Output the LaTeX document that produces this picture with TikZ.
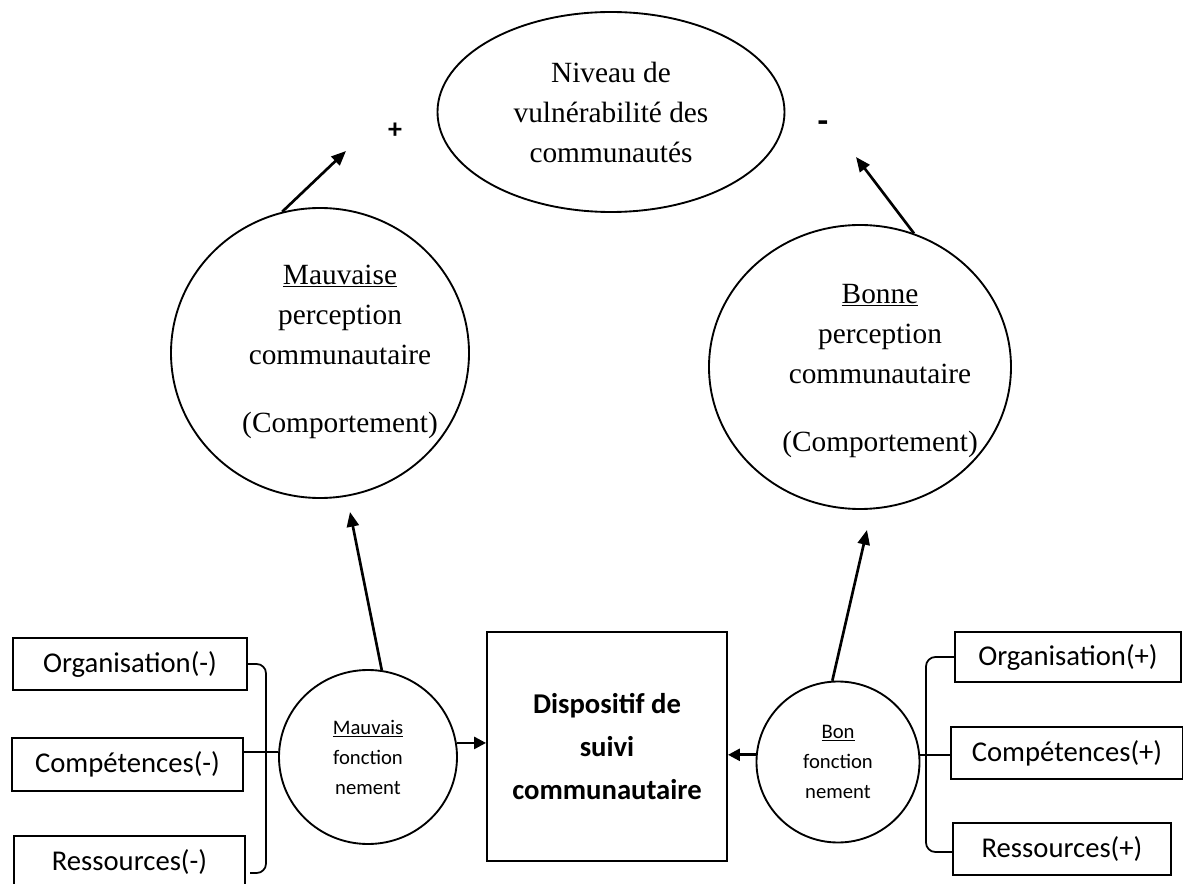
\documentclass[tikz,border=0pt]{standalone}
\usepackage{fontspec}
\setmainfont{Liberation Serif}
\newfontfamily\calfont{Carlito}
\usetikzlibrary{arrows.meta,shapes.geometric}
\begin{document}
\begin{tikzpicture}[x=0.75pt,y=-0.75pt,
  shp/.style={draw,line width=1.4pt,inner sep=0pt},
  ell/.style={shp,ellipse},
  serif/.style={font=\fontsize{22}{30}\selectfont,align=center},
  lbox/.style={shp,rectangle,font=\calfont\fontsize{21.5}{26}\selectfont},
  circtext/.style={font=\calfont\fontsize{15.5}{22.5}\selectfont,align=center},
  arr/.style={line width=2pt,-{Triangle[length=11pt,width=9pt]}},
  harr/.style={line width=2pt,-{Triangle[length=9pt,width=9pt]}},
  lnk/.style={line width=1.6pt},
  brk/.style={line width=1.3pt,rounded corners=7pt}]
\useasboundingbox (0,0) rectangle (1183,884);

% top ellipse
\node[ell,serif,minimum width=347*0.75pt,minimum height=200*0.75pt] (niv) at (611,112) {Niveau de\\vuln\'erabilit\'e des\\communaut\'es};

% perception ellipses
\node[ell,minimum width=298*0.75pt,minimum height=290*0.75pt] (mperc) at (320,353) {};
\node[serif] (mpt) at (340,352) {\underline{Mauvaise}\\perception\\communautaire\\[21pt](Comportement)};
\node[ell,minimum width=302*0.75pt,minimum height=284*0.75pt] (bperc) at (860,367) {};
\node[serif] (bpt) at (880,371) {\underline{Bonne}\\perception\\communautaire\\[21pt](Comportement)};

% functioning circles
\node[ell,circtext,minimum width=178*0.75pt,minimum height=174*0.75pt] (mfunc) at (368,757) {\underline{Mauvais}\\fonction\\nement};
\node[ell,circtext,minimum width=163*0.75pt,minimum height=161*0.75pt] (bfunc) at (838,762) {\underline{Bon}\\fonction\\nement};

% central box
\node[shp,rectangle,minimum width=240*0.75pt,minimum height=229*0.75pt,font=\calfont\bfseries\fontsize{21.5}{32}\selectfont,align=center] (disp) at (607,746.5) {Dispositif de\\suivi\\communautaire};

% left boxes
\node[lbox,minimum width=234*0.75pt,minimum height=52*0.75pt] (orgm) at (130,664) {Organisation(-)};
\node[lbox,minimum width=231*0.75pt,minimum height=53*0.75pt] (compm) at (127.5,764.5) {Comp\'etences(-)};
\node[lbox,minimum width=231*0.75pt,minimum height=52*0.75pt] (resm) at (129.5,862) {Ressources(-)};

% right boxes
\node[lbox,minimum width=226*0.75pt,minimum height=50*0.75pt] (orgp) at (1068,657) {Organisation(+)};
\node[lbox,minimum width=232*0.75pt,minimum height=52*0.75pt] (compp) at (1067,753) {Comp\'etences(+)};
\node[lbox,minimum width=218*0.75pt,minimum height=52*0.75pt] (resp) at (1062,849) {Ressources(+)};

% signs
\node[font=\calfont\bfseries\fontsize{21}{21}\selectfont] (plus) at (395,131) {+};
\node[font=\calfont\bfseries\fontsize{26}{26}\selectfont] (minus) at (823,127) {-};

% arrows
\coordinate (mtip) at (346,151);
\coordinate (btip) at (856,157);
\coordinate (mptip) at (350,512);
\coordinate (bptip) at (867,530);
\draw[arr] (mperc.105) -- (mtip);
\draw[arr] (bperc.68) -- (btip);
\draw[arr] (mfunc.81) -- (mptip);
\draw[arr] (bfunc.94) -- (bptip);
\draw[harr] (mfunc.9) -- (mfunc.9 -| disp.west);
\draw[harr] (bfunc.175) -- (bfunc.175 -| disp.east);
\draw[lnk] (mfunc.177) -- (mfunc.177 -| compm.east);
\draw[lnk] (bfunc.5) -- (bfunc.5 -| compp.west);

% brackets
\draw[brk] (orgm.east) -| (266,873) -- (250,873);
\draw[brk] (orgp.west) -| (926,852) -- (952,852);
\end{tikzpicture}
\end{document}
